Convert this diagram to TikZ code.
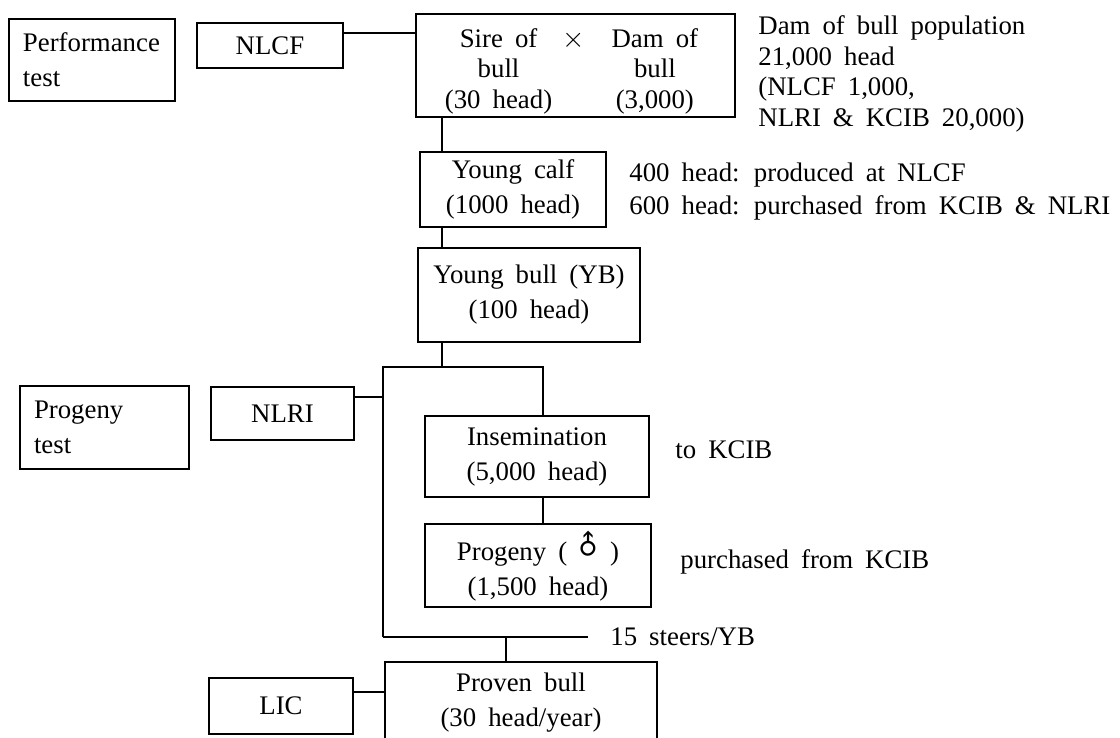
\documentclass[tikz,border=0pt]{standalone}
\usepackage{fontspec}
\usepackage{graphicx}
\setmainfont{Liberation Serif}
\newfontfamily\symfont{DejaVu Sans}
\newcommand{\bodyfont}{\fontsize{13.4}{17.5}\selectfont\spaceskip=.45em\relax}
\newcommand{\tightfont}{\fontsize{13.4}{15.3}\selectfont\spaceskip=.45em\relax}
\newcommand{\calffont}{\fontsize{13.4}{16.5}\selectfont\spaceskip=.45em\relax}
\tikzset{
  box/.style={draw, line width=1pt, inner sep=0pt, align=center},
  link/.style={line width=0.8pt},
  note/.style={inner sep=0pt, anchor=west, align=left},
}
\begin{document}
\begin{tikzpicture}[x=0.5pt,y=-0.5pt,font=\bodyfont]
	\useasboundingbox (0,0) rectangle (1120,738);
	\clip (0,0) rectangle (1120,738);

	%side labels
	\node[box, align=left, text width=69pt, inner xsep=7pt, minimum height=41pt] (perf) at (92,60) {Performance\\test};
	\node[box, align=left, text width=70.5pt, inner xsep=7pt, minimum height=41.5pt] (progtest) at (104.5,427.5) {Progeny\\test};

	%stations
	\node[box, minimum width=73pt, minimum height=22.5pt] (nlcf) at (270,45.5) {NLCF};
	\node[box, minimum width=71.5pt, minimum height=26.5pt] (nlri) at (282.5,413.5) {NLRI};
	\node[box, minimum width=72pt, minimum height=28pt] (lic) at (281,706) {LIC};

	%main chain
	\node[box, minimum width=159.5pt, minimum height=51.5pt, font=\tightfont] (sire) at (575.5,65.5)
		{\raisebox{-3pt}[\height][\depth]{\begin{tabular}{@{}c@{\hspace{5pt}}c@{\hspace{13.5pt}}c@{}}
		Sire of & $\times$ & Dam of\\
		bull & & bull\\
		(30 head) & & (3,000)
		\end{tabular}}\hspace*{4pt}};
	\node[box, minimum width=93pt, minimum height=37.5pt] (ycalf) at (513,189.5) {Young calf\\(1000 head)};
	\node[box, minimum width=111pt, minimum height=47pt] (ybull) at (529,295) {Young bull (YB)\\(100 head)};
	\node[box, minimum width=112pt, minimum height=40.5pt] (insem) at (537,456.5) {Insemination\\(5,000 head)};
	\node[box, minimum width=113pt, minimum height=41.5pt] (progeny) at (538,565.5)
		{Progeny~(\hspace{3pt}{\symfont\rotatebox{45}{♂}}\hspace{3pt})\\(1,500 head)};
	\node[box, minimum width=136pt, minimum height=40.5pt] (proven) at (521,702.5) {Proven bull\\(30 head/year)};

	%notes
	\node[note, font=\tightfont] (damnote) at (758,74) {Dam of bull population\\21,000 head\\(NLCF 1,000,\\NLRI \& KCIB 20,000)};
	\node[note, font=\calffont] (calfnote) at (629,191.5) {400 head: produced at NLCF\\600 head: purchased from KCIB \& NLRI};
	\node[note] (tokcib) at (675,450) {to KCIB};
	\node[note] (purch) at (680,562) {purchased from KCIB};
	\node[note] (steers) at (610,637) {15 steers/YB};

	%helper points
	\coordinate (spine) at (442,0);
	\coordinate (forkL) at (383,367);
	\coordinate (forkR) at (543,367);
	\coordinate (drop) at (506,637);
	\coordinate (nlcfout) at ([yshift=6.25pt]nlcf.east);
	\coordinate (nlriout) at ([yshift=8.25pt]nlri.east);
	\coordinate (licout) at ([yshift=7pt]lic.east);

	%connectors
	\draw[link] (nlcfout) -- (nlcfout -| sire.west);
	\draw[link] (sire.south -| spine) -- (ycalf.north -| spine);
	\draw[link] (ycalf.south -| spine) -- (ybull.north -| spine);
	\draw[link] (ybull.south -| spine) -- (spine |- forkL);
	\draw[link] (forkL |- drop) -- (forkL) -- (forkR) -- (forkR |- insem.north);
	\draw[link] (insem.south -| forkR) -- (progeny.north -| forkR);
	\draw[link] (nlriout) -- (nlriout -| forkL);
	\draw[link] (forkL |- drop) -- ([xshift=-11pt]steers.west);
	\draw[link] (drop) -- (drop |- proven.north);
	\draw[link] (licout) -- (licout -| proven.west);
\end{tikzpicture}
\end{document}
